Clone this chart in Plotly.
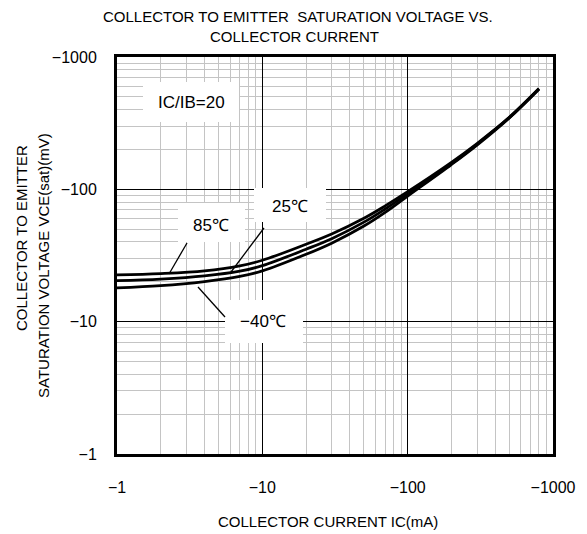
import plotly.graph_objects as go

# collector current (mA, shown as negative values on the axis)
ic_ma = [1, 2, 4, 7, 10, 20, 30, 50, 70, 100, 200, 300, 500, 800]

# VCE(sat) in mV for each ambient temperature
vce_85 = [22.6, 23.1, 24.2, 26.4, 29.1, 38.5, 46.0, 60.5, 75.0, 96.0, 160, 222, 350, 577]
vce_25 = [20.4, 21.0, 22.2, 24.1, 26.5, 35.3, 42.4, 56.5, 71.0, 92.5, 156, 219, 348, 574]
vce_m40 = [18.0, 18.7, 20.1, 22.0, 24.2, 32.3, 39.2, 52.8, 67.0, 89.0, 154, 216, 346, 571]

major_vals = [1, 10, 100, 1000]
major_text = ["−1", "−10", "−100", "−1000"]
minor_vals = [2, 3, 4, 5, 6, 7, 8, 9,
              20, 30, 40, 50, 60, 70, 80, 90,
              200, 300, 400, 500, 600, 700, 800, 900]

FONT = "Liberation Sans, Arial, sans-serif"
W, H = 587, 534
OFF = 8  # page body margin, figure is drawn 8px in from the corner
# plot area on the page
L, T, PW, PH = 117, 57, 436, 397


def paper(x, y):
    # pixel position on the page -> paper coords
    return (x - L) / PW, (T + PH - y) / PH


fig = go.Figure()
for vals in [vce_85, vce_25, vce_m40]:
    fig.add_trace(go.Scatter(x=ic_ma, y=vals, mode="lines", line_shape="spline",
                             line=dict(color="black", width=2.8), showlegend=False,
                             hoverinfo="skip"))

axis_common = dict(
    type="log", tickvals=major_vals, ticktext=major_text,
    showgrid=True, gridcolor="black", gridwidth=1.3,
    minor=dict(tickvals=minor_vals, showgrid=True, gridcolor="#c4c4c4", gridwidth=1.4, ticks=""),
    showline=True, linecolor="black", linewidth=3, mirror=True,
    ticks="", zeroline=False,
    tickfont=dict(family=FONT, size=16, color="black"),
)
fig.update_xaxes(range=[0, 3], ticklabelstandoff=17, **axis_common)
fig.update_yaxes(range=[0, 3], ticklabelstandoff=14, **axis_common)

shapes = []
annotations = []

# white label boxes (pixel boxes on the page)
boxes = [(143, 82, 239, 122), (178, 203, 245, 242), (254, 188, 326, 222), (225, 300, 303, 343)]
for x0, y0, x1, y1 in boxes:
    a0, b0 = paper(x0, y0)
    a1, b1 = paper(x1, y1)
    shapes.append(dict(type="rect", xref="paper", yref="paper", x0=a0, x1=a1, y0=b1, y1=b0,
                       fillcolor="white", line=dict(width=0), layer="above"))

# leader lines
leaders = [((187, 243), (169, 274)), ((264, 228), (231, 272)), ((198, 287), (225, 317))]
for (x0, y0), (x1, y1) in leaders:
    a0, b0 = paper(x0, y0)
    a1, b1 = paper(x1, y1)
    shapes.append(dict(type="line", xref="paper", yref="paper", x0=a0, y0=b0, x1=a1, y1=b1,
                       line=dict(color="black", width=1.3), layer="above"))

labels = [("IC/IB=20", 191, 102), ("85℃", 211, 225), ("25℃", 290, 206), ("−40℃", 263, 321)]
for txt, x, y in labels:
    a, b = paper(x, y)
    annotations.append(dict(text=txt, x=a, y=b, xref="paper", yref="paper", showarrow=False,
                            xanchor="center", yanchor="middle",
                            font=dict(family=FONT, size=17, color="black")))

# titles
for txt, x, y, ang in [("COLLECTOR TO EMITTER  SATURATION VOLTAGE VS.", 298, 16, 0),
                       ("COLLECTOR CURRENT", 294, 37, 0),
                       ("COLLECTOR CURRENT IC(mA)", 328, 521, 0),
                       ("COLLECTOR TO EMITTER", 22, 238, -90),
                       ("SATURATION VOLTAGE VCE(sat)(mV)", 43, 266, -90)]:
    a, b = paper(x, y)
    annotations.append(dict(text=txt, x=a, y=b, xref="paper", yref="paper", showarrow=False,
                            xanchor="center", yanchor="middle", textangle=ang,
                            font=dict(family=FONT, size=15, color="black")))

fig.update_layout(
    width=W, height=H,
    margin=dict(l=L - OFF, r=W - (L + PW) + OFF, t=T - OFF, b=H - (T + PH) + OFF),
    paper_bgcolor="white", plot_bgcolor="white",
    shapes=shapes, annotations=annotations,
)

fig.write_html("out.html")
